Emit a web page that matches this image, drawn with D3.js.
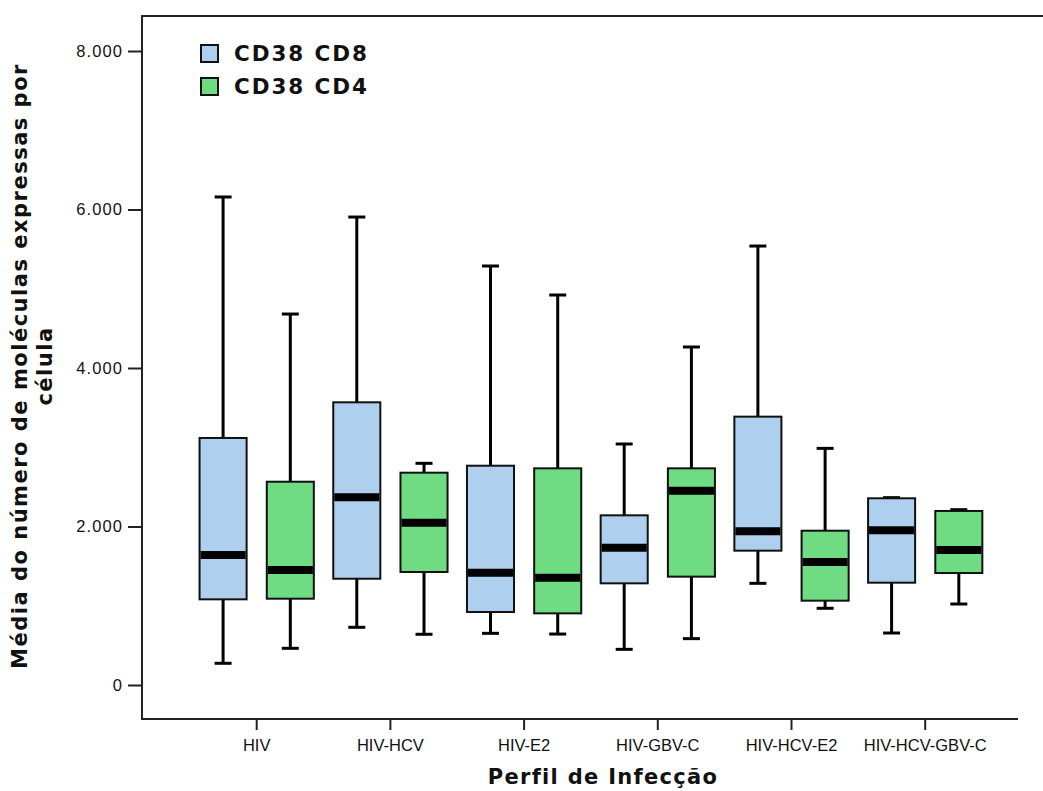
<!DOCTYPE html>
<html>
<head>
<meta charset="utf-8">
<script src="https://cdn.jsdelivr.net/npm/d3@7"></script>
<style>
  html, body { margin: 0; padding: 0; background: #fff; }
  svg { display: block; }
</style>
</head>
<body>
<svg id="chart" width="1043" height="791"></svg>
<script>
// Infection profiles on the x axis
const categories = ["HIV", "HIV-HCV", "HIV-E2", "HIV-GBV-C", "HIV-HCV-E2", "HIV-HCV-GBV-C"];
const seriesNames = ["CD38 CD8", "CD38 CD4"];
const seriesColors = ["#aecfed", "#6fdc83"];
const yTicks = [0, 2000, 4000, 6000, 8000];

// Box statistics per profile: [lower whisker, Q1, median, Q3, upper whisker]
const cd8Stats = [
  [274, 1081, 1640, 3117, 6158],
  [728, 1341, 2368, 3567, 5905],
  [652, 921, 1417, 2767, 5287],
  [450, 1283, 1733, 2141, 3041],
  [1283, 1695, 1939, 3386, 5539],
  [656, 1291, 1952, 2356, 2364]
];
const cd4Stats = [
  [463, 1089, 1451, 2565, 4681],
  [640, 1426, 2048, 2679, 2797],
  [643, 904, 1354, 2734, 4921],
  [585, 1367, 2452, 2734, 4265],
  [968, 1064, 1552, 1947, 2986],
  [1022, 1413, 1703, 2196, 2212]
];

const svg = d3.select("#chart");
const frame = { left: 142, top: 16, right: 1043, bottom: 719, axisEnd: 1018 };

const y = d3.scaleLinear().domain([0, 8000]).range([685, 51]);
const x = d3.scaleBand().domain(categories).range([189.85, 992.05]);
const offset = d3.scaleBand().domain(seriesNames).range([-60.5, 60.5]).paddingInner(0.3).paddingOuter(0.05);

const ptBR = d3.formatLocale({ decimal: ",", thousands: ".", grouping: [3], currency: ["R$", ""] });
const fmt = ptBR.format(",d");

// Frame lines
const frameG = svg.append("g").attr("stroke", "#222").attr("stroke-width", 2).attr("fill", "none");
frameG.append("line").attr("x1", frame.left).attr("x2", frame.right).attr("y1", frame.top).attr("y2", frame.top);
frameG.append("line").attr("x1", frame.left).attr("x2", frame.left).attr("y1", frame.top - 1).attr("y2", frame.bottom + 1);
frameG.append("line").attr("x1", frame.left).attr("x2", frame.axisEnd).attr("y1", frame.bottom).attr("y2", frame.bottom);

// Y axis
const yAxis = d3.axisLeft(y).tickValues(yTicks).tickFormat(fmt).tickSize(14).tickPadding(5);
const yG = svg.append("g").attr("transform", `translate(${frame.left},0)`).call(yAxis);
yG.select(".domain").remove();
yG.selectAll(".tick line").attr("stroke", "#222").attr("stroke-width", 2);
yG.selectAll(".tick text").attr("font-family", "Liberation Sans, Arial, sans-serif").attr("font-size", 16.5)
  .attr("letter-spacing", 1.1).attr("fill", "#111");

// X axis
const xAxis = d3.axisBottom(x).tickSize(11).tickPadding(9);
const xG = svg.append("g").attr("transform", `translate(0,${frame.bottom})`).call(xAxis);
xG.select(".domain").remove();
xG.selectAll(".tick line").attr("stroke", "#222").attr("stroke-width", 2);
xG.selectAll(".tick text").attr("font-family", "Liberation Sans, Arial, sans-serif").attr("font-size", 16.5)
  .attr("fill", "#111");

// Boxes
const capW = 17;
[cd8Stats, cd4Stats].forEach((stats, si) => {
  const g = svg.append("g");
  stats.forEach((s, i) => {
    const [lo, q1, med, q3, hi] = s;
    const x0 = x(categories[i]) + x.bandwidth() / 2 + offset(seriesNames[si]);
    const w = offset.bandwidth();
    const cx = x0 + w / 2;
    const wh = g.append("g").attr("stroke", "#000").attr("stroke-width", 3);
    wh.append("line").attr("x1", cx).attr("x2", cx).attr("y1", y(hi)).attr("y2", y(q3));
    wh.append("line").attr("x1", cx).attr("x2", cx).attr("y1", y(q1)).attr("y2", y(lo));
    wh.append("line").attr("x1", cx - capW / 2).attr("x2", cx + capW / 2).attr("y1", y(hi)).attr("y2", y(hi));
    wh.append("line").attr("x1", cx - capW / 2).attr("x2", cx + capW / 2).attr("y1", y(lo)).attr("y2", y(lo));
    g.append("rect").attr("x", x0).attr("width", w)
      .attr("y", y(q3)).attr("height", y(q1) - y(q3))
      .attr("fill", seriesColors[si]).attr("stroke", "#111").attr("stroke-width", 2);
    g.append("line").attr("x1", x0 + 1).attr("x2", x0 + w - 1).attr("y1", y(med)).attr("y2", y(med))
      .attr("stroke", "#000").attr("stroke-width", 8);
  });
});

// Legend
const legend = svg.append("g").attr("transform", "translate(200,44)");
seriesNames.forEach((name, i) => {
  const row = legend.append("g").attr("transform", `translate(0,${i * 33})`);
  row.append("rect").attr("x", 1).attr("y", 1).attr("width", 17).attr("height", 17)
    .attr("fill", seriesColors[i]).attr("stroke", "#111").attr("stroke-width", 2);
  row.append("text").attr("x", 34).attr("y", 17).text(name)
    .attr("font-family", "DejaVu Sans, sans-serif").attr("font-weight", "bold")
    .attr("font-size", 21.5).attr("letter-spacing", 1.9).attr("fill", "#111");
});

// Axis titles
svg.append("text").attr("x", 603).attr("y", 784).attr("text-anchor", "middle")
  .attr("font-family", "DejaVu Sans, sans-serif").attr("font-weight", "bold")
  .attr("font-size", 21).attr("letter-spacing", 1.3).attr("fill", "#111")
  .text("Perfil de Infecção");

const yTitle = svg.append("text").attr("transform", "translate(0,366) rotate(-90)")
  .attr("text-anchor", "middle").attr("font-family", "DejaVu Sans, sans-serif")
  .attr("font-weight", "bold").attr("font-size", 21).attr("letter-spacing", 1.5).attr("fill", "#111");
yTitle.append("tspan").attr("x", 0).attr("y", 27).text("Média do número de moléculas expressas por");
yTitle.append("tspan").attr("x", 0).attr("y", 52).text("célula");
</script>
</body>
</html>
